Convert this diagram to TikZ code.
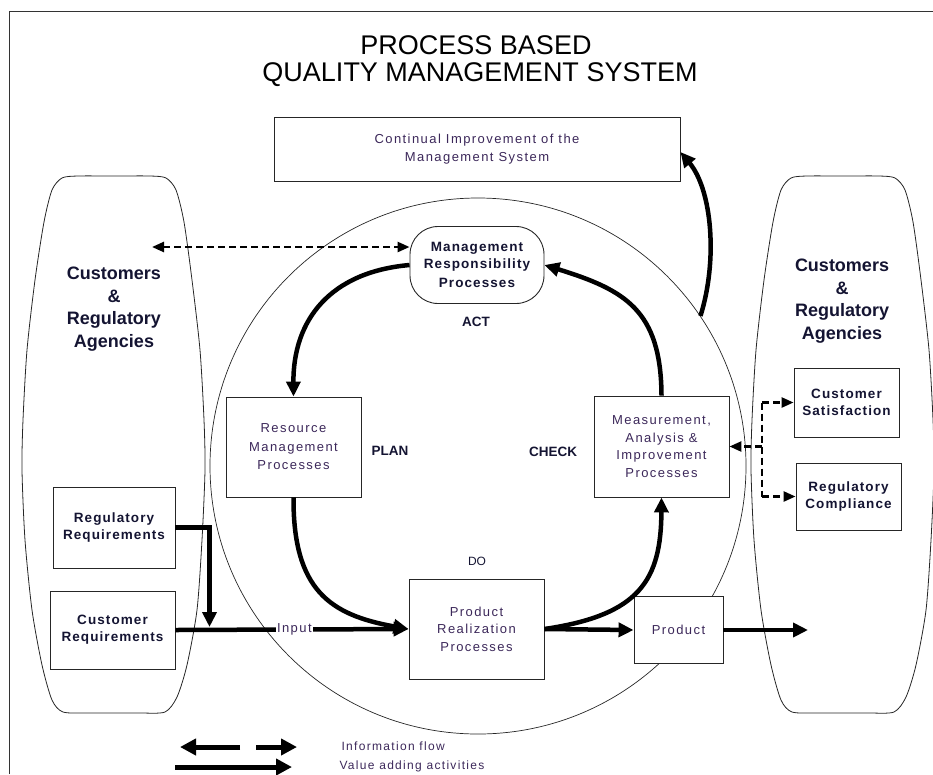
\documentclass[tikz,border=0pt]{standalone}
\usepackage{fontspec}
\setmainfont{Liberation Sans}
\newfontfamily\boxfont[LetterSpace=11]{Liberation Sans}
\newfontfamily\lblfont[LetterSpace=8]{Liberation Sans}
\usetikzlibrary{arrows.meta}
\definecolor{txtb}{RGB}{20,20,50}
\definecolor{txtr}{RGB}{60,40,90}
\tikzset{
  box/.style={draw=black!85, line width=0.9pt, fill=white, inner sep=0pt},
  small/.style={font=\boxfont\fontsize{13}{17.5}\selectfont, text=txtr, align=center},
  legtext/.style={font=\boxfont\fontsize{12}{14}\selectfont, text=txtr, anchor=west},
  bold/.style={font=\lblfont\bfseries\fontsize{13.5}{17}\selectfont, text=txtb, align=center},
  phase/.style={font=\bfseries\fontsize{13.5}{16}\selectfont, text=txtb},
  agency/.style={font=\bfseries\fontsize{18}{22.5}\selectfont, text=txtb, align=center},
  value/.style={line width=4.5pt, -{Triangle[length=15pt,width=14pt]}},
  info/.style={line width=2.5pt, dash pattern=on 7pt off 4pt, -{Triangle[length=12pt,width=10pt]}},
  infoboth/.style={line width=2.5pt, dash pattern=on 7pt off 4pt, {Triangle[length=12pt,width=10pt]}-{Triangle[length=12pt,width=10pt]}},
  legarrow/.style={line width=5pt, -{Triangle[length=16pt,width=16pt]}},
  region/.style={draw=black!85, line width=0.8pt},
}
\begin{document}
\begin{tikzpicture}[x=1pt,y=-1pt]
\useasboundingbox (0,0) rectangle (933,774);
% frame
\draw[line width=1pt, black!80] (9,774) -- (9,11) -- (933,11);
% title
\node[font=\fontsize{27}{30}\selectfont] (t1) at (476,45) {PROCESS BASED};
\node[font=\fontsize{27}{30}\selectfont] (t2) at (480,75) {QUALITY MANAGEMENT SYSTEM};
% barrel regions
\foreach \dx in {0,729}{
  \begin{scope}[xshift=\dx pt]
  \draw[region] plot[smooth cycle, tension=0.45] coordinates {
    (114,176) (150,176) (166,178) (176,190) (184,222) (192,280) (200,350)
    (204,420) (205,470) (202,540) (197,610) (187,665) (177,697) (165,712)
    (140,713) (114,713) (88,713) (63,712) (52,700) (42,665) (32,610)
    (25,540) (22,470) (23,420) (27,350) (35,280) (44,222) (52,190) (62,178) (78,176)};
  \end{scope}
}
\node[agency] (lagency) at (114,309) {Customers\\\&\\Regulatory\\Agencies};
\node[agency] (ragency) at (842,301) {Customers\\\&\\Regulatory\\Agencies};
% big circle
\node[draw=black!85, circle, line width=0.7pt, minimum size=536] (C) at (478,466) {};
% boxes
\node[box, minimum width=406, minimum height=64, small] (CI) at (477,149) {Continual Improvement of the\\Management System};
\node[box, rounded corners=28pt, minimum width=134, minimum height=77, bold] (MR) at (477,265) {Management\\Responsibility\\[2pt]Processes};
\node[box, minimum width=135, minimum height=100, small, font=\boxfont\fontsize{13}{18.5}\selectfont] (Res) at (293.5,447) {Resource\\Management\\Processes};
\node[box, minimum width=135, minimum height=101, small] (Meas) at (661.5,446.5) {Measurement,\\Analysis \&\\Improvement\\Processes};
\node[box, minimum width=135, minimum height=100, small] (PR) at (476.5,629) {Product\\Realization\\Processes};
\node[box, minimum width=89, minimum height=67, small] (Prod) at (678.5,630) {Product};
\node[box, minimum width=105, minimum height=69, bold] (CS) at (846.5,402.5) {Customer\\Satisfaction};
\node[box, minimum width=105, minimum height=67, bold] (RC) at (848.5,496.5) {Regulatory\\Compliance};
\node[box, minimum width=122, minimum height=81, bold] (RR) at (114,527.5) {Regulatory\\Requirements};
\node[box, minimum width=125, minimum height=78, bold] (CR) at (112.5,630) {Customer\\Requirements};
% phase labels
\node[phase] (act) at (476,322) {ACT};
\node[phase] (plan) at (390,451) {PLAN};
\node[phase] (check) at (553,452) {CHECK};
\node[font=\fontsize{12}{14}\selectfont, text=txtb] (do) at (477,561) {DO};
% value adding arrows
\coordinate (J) at (209.5,627);
\draw[value, line join=miter] (RR.east) -| (J);
\draw[value] (CR.east) -- node[pos=0.51, fill=white, inner sep=1pt, small] (inp) {Input} (PR.west);
\draw[value] (PR.east) -- (Prod.west);
\coordinate (out) at (808,630);
\draw[value] (Prod.east) -- (out);
\draw[value] (PR.east) .. controls (640,615) and (661,580) .. (Meas.south);
\draw[value] (Meas.north) .. controls (661,310) and (625,290) .. (MR.east);
\draw[value] (MR.west) .. controls (330,272) and (293,320) .. (Res.north);
\draw[value] (Res.south) .. controls (293,590) and (330,615) .. (PR.west);
\draw[value] (C.34) .. controls (718,260) and (712,190) .. ([yshift=-3pt]CI.east);
% information flow
\coordinate (L) at (152,247);
\draw[infoboth] (L) -- ([yshift=18pt]MR.west);
\coordinate (T) at (762,402.5);
\coordinate (B) at (762,496.5);
\coordinate (M) at (762,446.5);
\draw[info, -] (T) -- (B);
\draw[info] (T) -- (CS.west);
\draw[info] (B) -- (RC.west);
\draw[info] (M) -- (Meas.east);
% legend
\coordinate (la1) at (240,747); \coordinate (la2) at (180,747);
\coordinate (lb1) at (256,747); \coordinate (lb2) at (297,747);
\coordinate (lc1) at (175,767); \coordinate (lc2) at (292,767);
\draw[legarrow] (la1) -- (la2);
\draw[legarrow] (lb1) -- (lb2);
\draw[legarrow] (lc1) -- (lc2);
\node[legtext] (lt1) at (338,746) {Information flow};
\node[legtext] (lt2) at (336,766) {Value adding activities};
\end{tikzpicture}
\end{document}
